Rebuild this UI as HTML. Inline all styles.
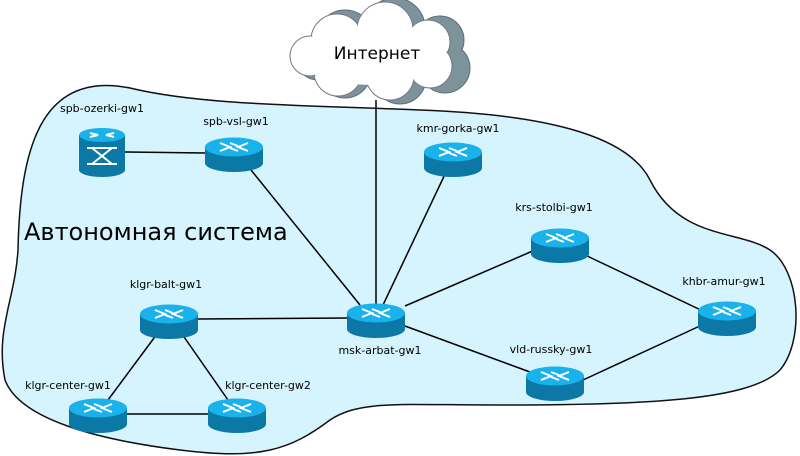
<!DOCTYPE html>
<html><head><meta charset="utf-8"><style>
html,body{margin:0;padding:0;background:#fff;}
svg{display:block;}
text{font-family:"DejaVu Sans","Liberation Sans",sans-serif;}
</style></head><body>
<svg width="800" height="456" viewBox="0 0 800 456" xmlns="http://www.w3.org/2000/svg">
<defs>
<g id="r">
<path d="M-29,0 L-29,16 A29,9 0 0 0 29,16 L29,0 Z" fill="#0b78a6"/>
<ellipse cx="0" cy="0" rx="29" ry="9.5" fill="#19b2ea"/>
<g stroke="#fff" stroke-width="2" fill="none">
<path d="M-14,-4 L-4,0 L-14,4"/><path d="M14,-4 L4,0 L14,4"/>
<path d="M-4,-4 L4,-1"/><path d="M4,4 L-4,1"/>
</g>
</g>
</defs>
<path d="M18,250 C20,150 40,70 130,88 C200,105 300,105 420,110 C560,115 630,140 650,180 C680,240 740,230 770,250 C800,270 805,340 780,370 C750,400 650,405 500,405 C400,405 360,400 330,420 C290,450 260,460 180,450 C100,440 20,420 5,380 C-5,330 15,300 18,250 Z" fill="#d6f4fd" stroke="#111" stroke-width="1.5"/>
<g fill="#7d939c" stroke="#5a6f78" stroke-width="1">
<circle cx="345" cy="38" r="28"/><circle cx="395" cy="28" r="30"/><circle cx="440" cy="40" r="24"/>
<circle cx="445" cy="68" r="25"/><circle cx="400" cy="78" r="26"/><circle cx="345" cy="72" r="26"/><circle cx="318" cy="58" r="22"/>
</g>
<g fill="#7d939c">
<circle cx="345" cy="38" r="27"/><circle cx="395" cy="28" r="29"/><circle cx="440" cy="40" r="23"/>
<circle cx="445" cy="68" r="24"/><circle cx="400" cy="78" r="25"/><circle cx="345" cy="72" r="25"/><circle cx="318" cy="58" r="21"/>
<ellipse cx="385" cy="55" rx="60" ry="30"/>
</g>
<g fill="#fff" stroke="#778" stroke-width="1">
<circle cx="337" cy="40" r="26"/><circle cx="385" cy="30" r="28"/><circle cx="428" cy="42" r="22"/>
<circle cx="430" cy="66" r="22"/><circle cx="390" cy="76" r="24"/><circle cx="338" cy="72" r="24"/><circle cx="310" cy="56" r="20"/>
</g>
<g fill="#fff">
<circle cx="337" cy="40" r="25"/><circle cx="385" cy="30" r="27"/><circle cx="428" cy="42" r="21"/>
<circle cx="430" cy="66" r="21"/><circle cx="390" cy="76" r="23"/><circle cx="338" cy="72" r="23"/><circle cx="310" cy="56" r="19"/>
<ellipse cx="372" cy="55" rx="70" ry="30"/>
</g>
<text x="377" y="59" font-size="17" text-anchor="middle" fill="#000">Интернет</text>
<g stroke="#000" stroke-width="1.5">
<line x1="376" y1="100" x2="376" y2="313"/>
<line x1="125" y1="152" x2="205" y2="153"/>
<line x1="247" y1="165" x2="360" y2="305"/>
<line x1="447" y1="170" x2="383" y2="305"/>
<line x1="405" y1="306" x2="535" y2="250"/>
<line x1="585" y1="255" x2="705" y2="312"/>
<line x1="405" y1="326" x2="530" y2="372"/>
<line x1="583" y1="380" x2="702" y2="325"/>
<line x1="198" y1="319" x2="348" y2="318"/>
<line x1="157" y1="334" x2="108" y2="400"/>
<line x1="182" y1="334" x2="228" y2="400"/>
<line x1="127" y1="414" x2="209" y2="414"/>
</g>
<g>
<path d="M79,135 L79,170 A23,7 0 0 0 125,170 L125,135 Z" fill="#0b78a6"/>
<ellipse cx="102" cy="135" rx="23" ry="7" fill="#19b2ea"/>
<g stroke="#fff" stroke-width="2" fill="none">
<path d="M90,133 L98,135 L90,137 M114,133 L106,135 L114,137"/>
<path d="M87,148 L117,148 M87,164 L117,164 M92,148 L112,164 M112,148 L92,164"/>
</g>
</g>
<use href="#r" x="234" y="147"/>
<use href="#r" x="453" y="152"/>
<use href="#r" x="560" y="238"/>
<use href="#r" x="727" y="311"/>
<use href="#r" x="376" y="313"/>
<use href="#r" x="555" y="376"/>
<use href="#r" x="169" y="314"/>
<use href="#r" x="98" y="408"/>
<use href="#r" x="237" y="408"/>
<g font-size="11" fill="#000" text-anchor="middle">
<text x="102" y="112">spb-ozerki-gw1</text>
<text x="236" y="125">spb-vsl-gw1</text>
<text x="458" y="132">kmr-gorka-gw1</text>
<text x="554" y="211">krs-stolbi-gw1</text>
<text x="724" y="285">khbr-amur-gw1</text>
<text x="166" y="288">klgr-balt-gw1</text>
<text x="380" y="354">msk-arbat-gw1</text>
<text x="551" y="353">vld-russky-gw1</text>
<text x="68" y="389">klgr-center-gw1</text>
<text x="268" y="389">klgr-center-gw2</text>
</g>
<text x="24" y="240" font-size="24" fill="#000">Автономная система</text>
</svg>
</body></html>
